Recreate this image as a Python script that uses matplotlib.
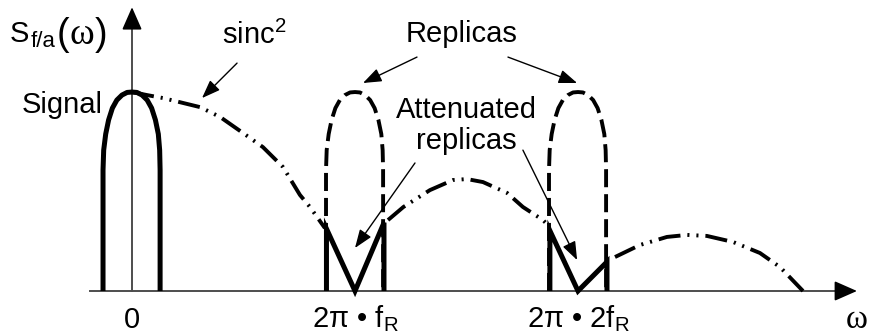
import numpy as np
import matplotlib.pyplot as plt
import matplotlib as mpl

mpl.rcParams.update({
    "font.family": "Liberation Sans",
    "mathtext.fontset": "custom",
    "mathtext.rm": "Liberation Sans",
    "mathtext.it": "Liberation Sans:italic",
    "font.size": 21,
    "lines.scale_dashes": False,
})

# x in units of 2*pi*f_R, y normalised to the signal peak
# baseband signal shape (solid), same shape reused for the replicas (dashed)
sig_x = [-0.130, -0.130, -0.127, -0.118, -0.105, -0.088, -0.068, -0.045, -0.022, 0.0,
         0.022, 0.045, 0.068, 0.088, 0.105, 0.118, 0.124, 0.126, 0.126]
sig_y = [0.0, 0.602, 0.701, 0.781, 0.851, 0.910, 0.950, 0.975, 0.988, 0.99,
         0.988, 0.975, 0.950, 0.910, 0.851, 0.781, 0.701, 0.602, 0.0]
replica_centres = [1, 2]

# attenuated replicas (M shapes)
m1_x = [0.872, 0.872, 1.0, 1.13, 1.13]
m1_y = [0.0, 0.31, 0.0, 0.34, 0.0]
m2_x = [1.874, 1.874, 2.0, 2.13, 2.13]
m2_y = [0.0, 0.30, 0.0, 0.145, 0.0]

# sinc^2 envelope (dash-dot-dot), three lobes
lobe0_x = [0.0, 0.067, 0.139, 0.305, 0.395, 0.498, 0.587, 0.677, 0.753, 0.798, 0.865]
lobe0_y = [0.99, 0.975, 0.960, 0.915, 0.866, 0.786, 0.716, 0.617, 0.478, 0.418, 0.313]
lobe1_x = [1.148, 1.217, 1.336, 1.439, 1.502, 1.574, 1.682, 1.753, 1.843, 1.874]
lobe1_y = [0.353, 0.418, 0.502, 0.552, 0.557, 0.542, 0.488, 0.418, 0.353, 0.318]
lobe2_x = [2.166, 2.278, 2.399, 2.489, 2.578, 2.695, 2.816, 2.906, 3.009]
lobe2_y = [0.169, 0.229, 0.269, 0.279, 0.274, 0.244, 0.189, 0.119, 0.0]

tick_pos = [0, 1, 2]
tick_labels = ["0", r"$\mathrm{2π\ •\ f_R}$", r"$\mathrm{2π\ •\ 2f_R}$"]

fig = plt.figure(figsize=(8.71, 3.35), dpi=100)
ax = fig.add_axes([0, 0, 1, 1])
ax.set_xlim(-0.592, 3.314)
ax.set_ylim(-0.219, 1.448)
ax.axis("off")

# axes with arrow heads
axc = "#4d4d4d"
ax.plot([-0.188, 3.19], [0, 0], color=axc, lw=1.4, zorder=1)
ax.plot([0, 0], [0, 1.36], color=axc, lw=1.4, zorder=1)
ax.annotate("", xy=(3.251, 0), xytext=(3.17, 0),
            arrowprops=dict(arrowstyle="-|>,head_length=0.5,head_width=0.22",
                            color="black", lw=1.2, mutation_scale=28,
                            shrinkA=0, shrinkB=0))
ax.annotate("", xy=(0, 1.412), xytext=(0, 1.33),
            arrowprops=dict(arrowstyle="-|>,head_length=0.5,head_width=0.22",
                            color="black", lw=1.2, mutation_scale=28,
                            shrinkA=0, shrinkB=0))

# sinc^2 envelope
dashdot = (0, (16, 5, 1.5, 5, 1.5, 5))
for lx, ly in [(lobe0_x, lobe0_y), (lobe1_x, lobe1_y), (lobe2_x, lobe2_y)]:
    ax.plot(lx, ly, color="black", lw=2.8, linestyle=dashdot, zorder=2)

# replicas
sx = np.array(sig_x)
for c in replica_centres:
    ax.plot(sx + c, sig_y, color="black", lw=2.8, linestyle=(0, (13, 5)), zorder=2)

# signal and attenuated replicas
ax.plot(sig_x, sig_y, color="black", lw=3.6, solid_capstyle="butt", zorder=3)
for mx, my in [(m1_x, m1_y), (m2_x, m2_y)]:
    ax.plot(mx, my, color="black", lw=3.6, solid_capstyle="butt",
            solid_joinstyle="miter", zorder=3)

# tick labels
for p, lab in zip(tick_pos, tick_labels):
    ax.text(p, -0.182, lab, ha="center", va="baseline")
ax.text(3.200, -0.186, "ω", ha="left", va="baseline",
        family="Liberation Serif", fontsize=24)

# y label S_f/a(ω), built piece by piece
t = ax.text(-0.547, 1.239, "S", ha="left", va="baseline", fontsize=21)
for piece, yb, fs, fam, dx in [("f/a", 1.214, 16, "Liberation Sans", 1),
                               ("(", 1.224, 27, "Liberation Sans", 1),
                               ("ω", 1.229, 27, "Liberation Serif", 0),
                               (")", 1.224, 27, "Liberation Sans", 0)]:
    t = ax.annotate(piece, xy=(1, yb), xycoords=(t, "data"), xytext=(dx, 0),
                    textcoords="offset points", va="baseline", ha="left",
                    fontsize=fs, family=fam)

ax.text(0.404, 1.229, r"sinc$^{\mathrm{2}}$", ha="left", va="baseline")
ax.text(-0.133, 0.886, "Signal", ha="right", va="baseline")
ax.text(1.48, 1.239, "Replicas", ha="center", va="baseline")
ax.text(1.50, 0.861, "Attenuated", ha="center", va="baseline")
ax.text(1.50, 0.706, "replicas", ha="center", va="baseline")

arrow_props = dict(arrowstyle="-|>,head_length=0.8,head_width=0.3", color="black",
                   lw=1.0, mutation_scale=14, shrinkA=0, shrinkB=0)
arrows = [
    ((0.471, 1.134), (0.314, 0.960)),
    ((1.278, 1.164), (1.036, 1.035)),
    ((1.686, 1.164), (1.996, 1.035)),
    ((1.269, 0.637), (1.0, 0.214)),
    ((1.753, 0.701), (1.996, 0.154)),
]
for tail, tip in arrows:
    ax.annotate("", xy=tip, xytext=tail, arrowprops=arrow_props)

plt.savefig("out.png", dpi=100)
